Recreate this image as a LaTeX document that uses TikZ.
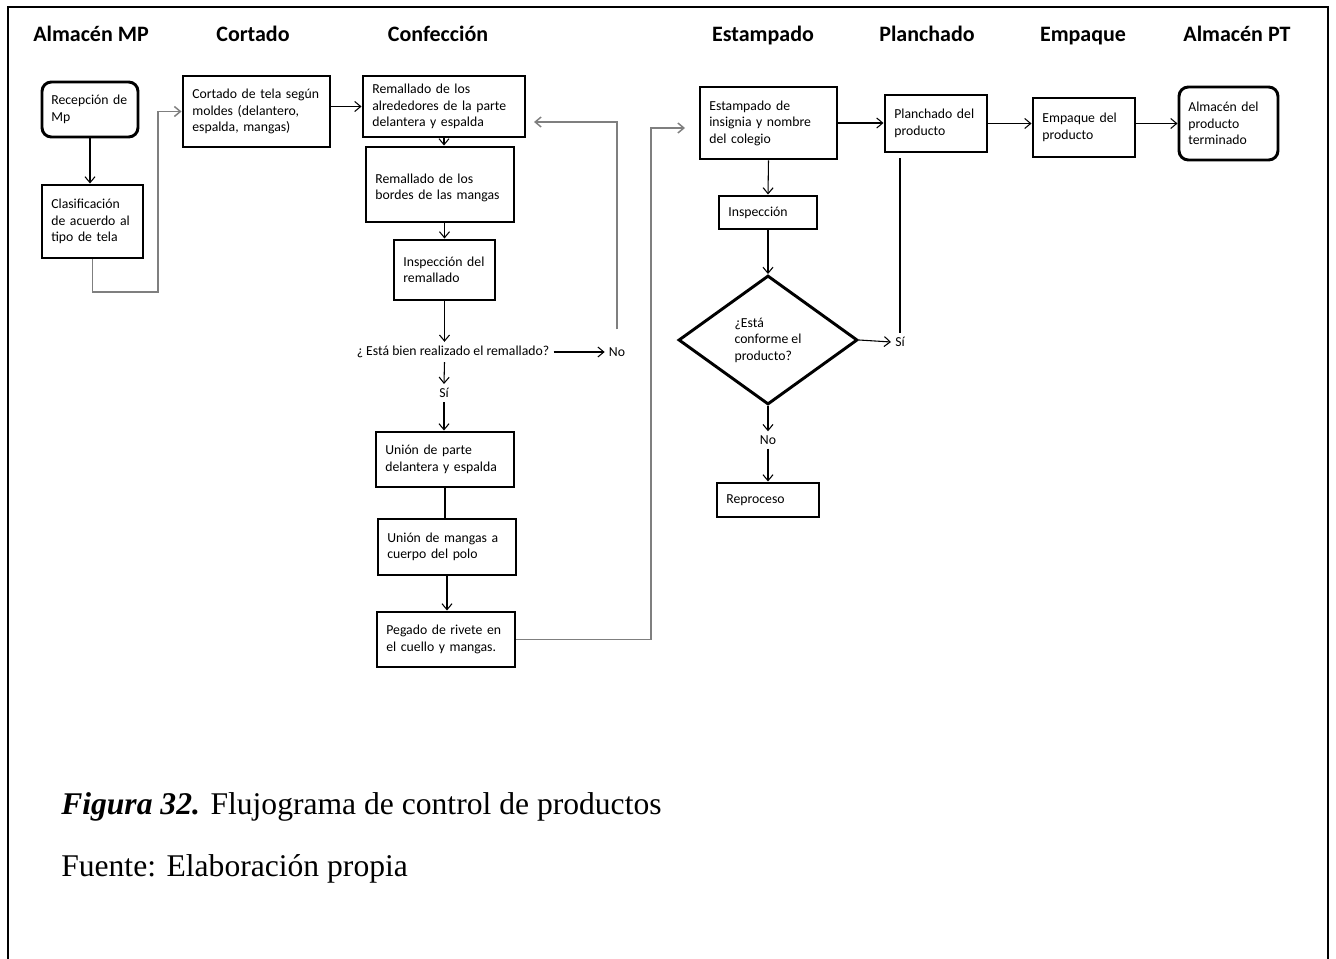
\documentclass[tikz,border=0pt]{standalone}
\usepackage{fontspec}
\setmainfont{Liberation Serif}
\newfontfamily\calfont{Carlito}
\usetikzlibrary{arrows.meta,shapes.geometric}

\definecolor{linegray}{HTML}{7F7F7F}

\begin{document}
\begin{tikzpicture}[x=0.75pt,y=-0.75pt,
  every node/.style={font=\calfont\fontsize{10.3}{12.4}\selectfont},
  head/.style={font=\calfont\bfseries\fontsize{16.5}{20}\selectfont, anchor=base},
  box/.style={draw, line width=2.2pt, align=left, inner xsep=7pt, inner ysep=0pt},
  rbox/.style={box, rounded corners=7pt},
  sz/.style n args={3}{minimum width=#1, minimum height=#2, text width=#3},
  lbl/.style={inner sep=3pt},
  dia/.style={diamond, draw, line width=2.2pt, align=left, inner sep=0pt,
    minimum width=134.25pt, minimum height=96.75pt},
  arr/.style={line width=0.8pt, -{Straight Barb[length=4.5pt,width=7.5pt]}},
  garr/.style={draw=linegray, line width=1.1pt, -{Straight Barb[length=4.5pt,width=7.5pt]}},
  conn/.style={line width=0.8pt},
  captext/.style={font=\rmfamily\fontsize{23.7}{28}\selectfont, anchor=base west, inner sep=0pt}
]
\useasboundingbox (0,0) rectangle (1336,959);

% outer frame, open at the bottom
\draw[line width=1.6pt] (8,975) -- (8,7) -- (1328,7) -- (1328,975);

% column headings
\node[head] (h1) at (91,42)   {Almacén MP};
\node[head] (h2) at (253,42)  {Cortado};
\node[head] (h3) at (438,42)  {Confección};
\node[head] (h4) at (763,42)  {Estampado};
\node[head] (h5) at (927,42)  {Planchado};
\node[head] (h6) at (1083,42) {Empaque};
\node[head] (h7) at (1237,42) {Almacén PT};

% raw material store
\node[rbox, sz={72pt}{41.25pt}{58pt}] (rec) at (90,109.5) {Recepción~de\\Mp};
\node[box, sz={75.75pt}{54.75pt}{61.75pt}] (cla) at (92.5,221.5)
  {Clasificación\\de~acuerdo~al\\tipo~de~tela};

% cutting
\node[box, sz={110.25pt}{53.25pt}{96.25pt}] (cor) at (256.5,111.5)
  {Cortado~de~tela~según\\moldes~(delantero,\\espalda,~mangas)};

% sewing
\node[box, sz={121.5pt}{45.75pt}{107.5pt}] (re1) at (444,106.5)
  {Remallado~de~los\\alrededores~de~la~parte\\delantera~y~espalda};
\node[box, sz={111pt}{56.25pt}{97pt}, text depth=9pt] (re2) at (440,184.5)
  {Remallado~de~los\\bordes~de~las~mangas};
\node[box, sz={75.75pt}{45pt}{61.75pt}] (ins) at (444.5,270)
  {Inspección~del\\remallado};
\node[lbl] (q1)  at (453,352) {¿ Está bien realizado el remallado?};
\node[lbl] (no1) at (617,352) {No};
\node[lbl] (si1) at (444,393) {Sí};
\node[box, sz={103.5pt}{41.25pt}{89.5pt}] (un1) at (445,459.5)
  {Unión~de~parte\\delantera~y~espalda};
\node[box, sz={103.5pt}{42pt}{89.5pt}] (un2) at (447,547)
  {Unión~de~mangas~a\\cuerpo~del~polo};
\node[box, sz={103.5pt}{41.25pt}{89.5pt}] (peg) at (446,639.5)
  {Pegado~de~rivete~en\\el~cuello~y~mangas.};

% printing
\node[box, sz={102.75pt}{54pt}{88.75pt}] (est) at (768.5,123)
  {Estampado~de\\insignia~y~nombre\\del~colegio};
\node[box, sz={73.5pt}{24.75pt}{59.5pt}] (insp) at (768,212.5) {Inspección};
\node[dia] (dia) at (768,340) {¿Está\\conforme~el\\producto?};
\node[lbl] (si2) at (900,342) {Sí};
\node[lbl] (no2) at (768,440) {No};
\node[box, sz={76.5pt}{25.5pt}{62.5pt}] (rep) at (768,500) {Reproceso};

% ironing, packing, finished goods
\node[box, sz={76.5pt}{42.75pt}{62.5pt}] (pla) at (936,123.5)
  {Planchado~del\\producto};
\node[box, sz={76.5pt}{44.25pt}{62.5pt}] (emp) at (1084,127.5)
  {Empaque~del\\producto};
\node[rbox, sz={74.25pt}{54.75pt}{60.25pt}] (alm) at (1228.5,123.5)
  {Almacén~del\\producto\\terminado};

% caption
\node[captext] (fig) at (61,814) {\textbf{\textit{Figura 32.}} Flujograma de control de productos};
\node[captext] (src) at (61,876) {Fuente: Elaboración propia};

% connectors
\coordinate (j1) at (158,292);
\coordinate (lp) at (534,122);
\coordinate (j2) at (651,128);
\coordinate (ea) at (685,128);

\draw[arr] (rec.south) -- (rec.south |- cla.north);
\draw[garr] (cla.south) |- (j1) |- (cor.west);
\draw[arr] (cor.east |- re1.west) -- (re1.west);
\draw[arr] (re1.south) -- (re1.south |- re2.north);
\draw[arr] (ins.north |- re2.south) -- (ins.north);
\draw[arr] (ins.south) -- (ins.south |- q1.north);
\draw[arr] (q1.east) -- (no1.west);
\draw[arr] (ins.south |- q1.south) -- (si1.north);
\draw[arr] (si1.south) -- (si1.south |- un1.north);
\draw[garr] (no1.north) ++(0,-14) |- (lp);
\draw[conn] (un1.south) -- (un1.south |- un2.north);
\draw[arr] (un2.south) -- (un2.south |- peg.north);
\draw[garr] (peg.east) -| (j2) -- (ea);

\draw[arr] (est.east) -- (est.east -| pla.west);
\draw[arr] (est.south) -- (insp.north);
\draw[arr] (insp.south) -- (dia.north);
\draw[arr] (dia.east) -- (si2.west);
\draw[conn] (pla.south -| si2.north) ++(0,5) -- (si2.north);
\draw[arr] (dia.south) -- (no2.north);
\draw[arr] (no2.south) -- (rep.north);
\draw[arr] (pla.east) -- (pla.east -| emp.west);
\draw[arr] (emp.east |- alm.west) -- (alm.west);
\end{tikzpicture}
\end{document}
